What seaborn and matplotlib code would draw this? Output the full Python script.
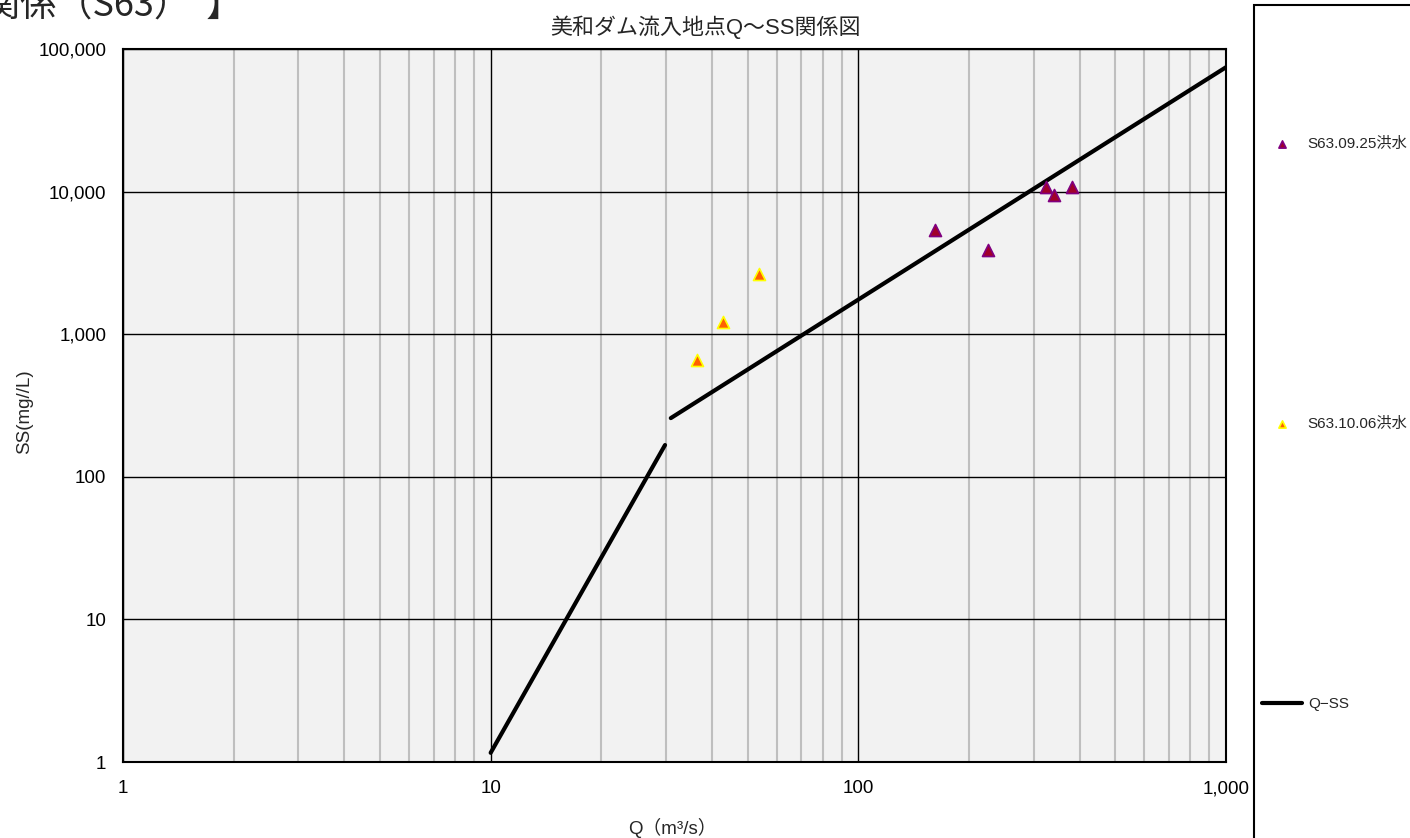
import matplotlib
matplotlib.use("Agg")
import matplotlib.pyplot as plt
import matplotlib.ticker as mticker
from matplotlib.patches import Rectangle
import seaborn as sns

# ---- data ----
flood1_label = "S63.09.25洪水"
flood1_q = [161.5, 225, 324, 340, 381]
flood1_ss = [5380, 3890, 10770, 9460, 10800]

flood2_label = "S63.10.06洪水"
flood2_q = [36.5, 42.8, 53.7]
flood2_ss = [659, 1218, 2630]

line_label = "Q−SS"
line1_q = [10, 29.8]
line1_ss = [1.16, 167]
line2_q = [30.9, 1000]
line2_ss = [258, 74500]

x_ticks = [1, 10, 100, 1000]
y_ticks = [1, 10, 100, 1000, 10000, 100000]

title = "美和ダム流入地点Q～SS関係図"
header = "関係（S63）  】"
xlabel = "Q（m³/s）"
ylabel = "SS(mg//L)"

# ---- style ----
sns.set_style("white")
plt.rcParams['font.family'] = ['Liberation Sans', 'Noto Sans CJK JP', 'DejaVu Sans']

W, H = 1410, 838
fig = plt.figure(figsize=(W / 100, H / 100), dpi=100)
ax = fig.add_axes([123 / W, 1 - 762 / H, (1226 - 123) / W, (762 - 49) / H])
ax.set_facecolor('#f2f2f2')
ax.set_xscale('log')
ax.set_yscale('log')
ax.set_xlim(1, 1000)
ax.set_ylim(1, 100000)

# grid
ax.xaxis.set_minor_locator(mticker.LogLocator(base=10, subs=range(2, 10)))
ax.yaxis.set_minor_locator(mticker.NullLocator())
ax.grid(which='minor', axis='x', color='#bfbfbf', lw=1.5, zorder=0)
ax.grid(which='major', axis='both', color='black', lw=1.0, zorder=0.5)
ax.set_axisbelow(True)

sns.scatterplot(x=flood1_q, y=flood1_ss, ax=ax, marker='^', s=75,
                color='#a0002a', edgecolor='#800080', linewidth=1.2,
                label=flood1_label, zorder=4)
sns.scatterplot(x=flood2_q, y=flood2_ss, ax=ax, marker='^', s=75,
                color='#ff6000', edgecolor='#ffff00', linewidth=1.2,
                label=flood2_label, zorder=4)
sns.lineplot(x=line1_q, y=line1_ss, ax=ax, color='black', lw=3,
             label=line_label, zorder=3)
sns.lineplot(x=line2_q, y=line2_ss, ax=ax, color='black', lw=3, zorder=3)

handles, labels = ax.get_legend_handles_labels()
ax.get_legend().remove()

fmt = mticker.FuncFormatter(lambda v, p: f"{v:,.0f}")
ax.set_xticks(x_ticks)
ax.set_yticks(y_ticks)
ax.xaxis.set_major_formatter(fmt)
ax.yaxis.set_major_formatter(fmt)
ax.tick_params(axis='both', which='both', length=0, labelsize=13.5, colors='black')
ax.tick_params(axis='x', pad=13)
ax.tick_params(axis='y', pad=12)
for s in ax.spines.values():
    s.set_color('black')
    s.set_linewidth(1.5)

ax.set_xlabel("")
ax.set_ylabel("")
fig.text(672 / W, 1 - 828 / H, xlabel, ha='center', va='center', fontsize=13.5)
fig.text(25 / W, 1 - 412 / H, ylabel, ha='center', va='center', rotation=90, fontsize=13.5)
fig.text(705 / W, 1 - 27 / H, title, ha='center', va='center', fontsize=15.8)
fig.text(-16 / W, 1 - 17 / H, header, ha='left', va='baseline', fontsize=26,
         family=['Noto Sans CJK JP', 'DejaVu Sans'])

# legend box
fig.patches.append(Rectangle((1254 / W, -0.05), 0.2, 1.05 - 5 / H,
                             transform=fig.transFigure, facecolor='white',
                             edgecolor='black', lw=1.5, zorder=0))
fig.legend(handles, labels, loc='center left',
           bbox_to_anchor=(1262 / W, 1 - 424 / H), frameon=False,
           borderpad=0, borderaxespad=0, fontsize=11, labelspacing=17.4,
           handlelength=2.6, handletextpad=0.4, markerscale=0.6)

fig.savefig("out.png", dpi=100)
